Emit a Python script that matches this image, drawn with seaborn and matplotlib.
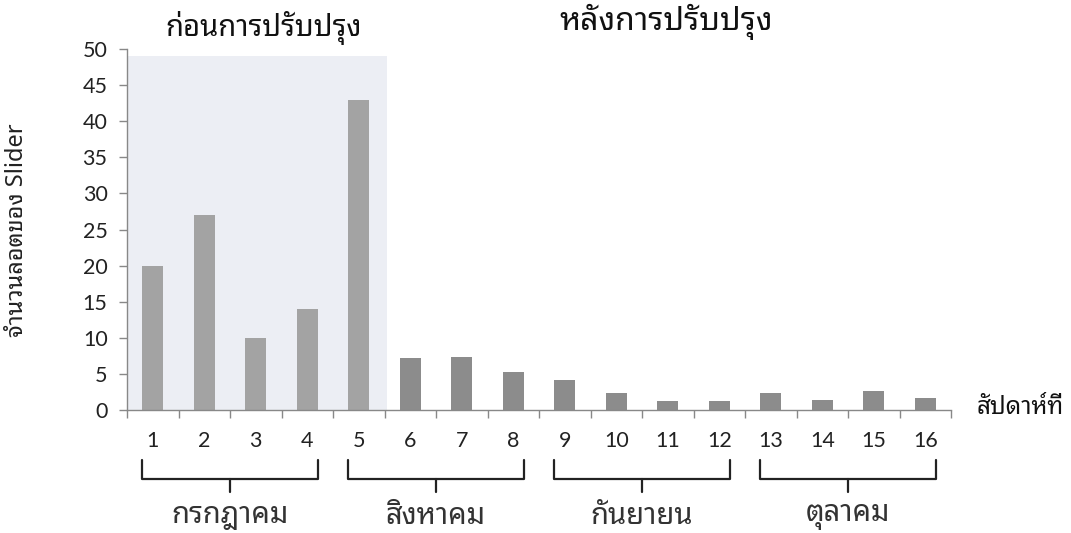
import matplotlib
matplotlib.use("Agg")
import matplotlib.pyplot as plt
import matplotlib.transforms as mtransforms
import seaborn as sns
import pandas as pd

weeks = [str(i) for i in range(1, 17)]
lots = [20, 27, 10, 14, 43, 7.2, 7.3, 5.3, 4.2, 2.3, 1.3, 1.3, 2.4, 1.4, 2.6, 1.6]
phase = ["before"] * 5 + ["after"] * 11
months = ["กรกฎาคม", "สิงหาคม", "กันยายน", "ตุลาคม"]
month_spans = [(0, 3), (4, 7), (8, 11), (12, 15)]
title_before = "ก่อนการปรับปรุง"
title_after = "หลังการปรับปรุง"
ylabel = "จำนวนลอตของ Slider"
xlabel = "สัปดาห์ที่"
yticks = list(range(0, 51, 5))

sns.set_theme(style="white")
THAI = ["Noto Sans Thai Looped", "Lato", "DejaVu Sans"]
NUM = ["Lato", "DejaVu Sans"]
plt.rcParams["font.family"] = THAI

df = pd.DataFrame({"week": weeks, "lots": lots, "phase": phase})

fig = plt.figure(figsize=(10.71, 5.33), dpi=100)
ax = fig.add_axes([127 / 1071, 1 - 410 / 533, (951 - 127) / 1071, (410 - 49) / 533])

ax.axvspan(-0.5, 4.55, ymin=0, ymax=49 / 50, color="#eceef4", zorder=0, lw=0)

sns.barplot(data=df, x="week", y="lots", hue="phase",
            palette={"before": "#a3a3a3", "after": "#8c8c8c"},
            width=0.4, dodge=False, legend=False, ax=ax, zorder=2, saturation=1,
            linewidth=0)

ax.set_xlim(-0.5, 15.5)
ax.set_ylim(0, 50)
ax.set_yticks(yticks)
ax.set_yticklabels([str(v) for v in yticks], fontsize=15.5, color="#222222", family=NUM)
ax.set_xticks([i - 0.5 for i in range(17)])
ax.set_xticklabels([""] * 17)
ax.tick_params(axis="x", direction="out", length=6, width=1, color="#888888", bottom=True)
ax.tick_params(axis="y", direction="out", length=6, width=1, color="#888888", left=True, pad=8)
for s in ["top", "right"]:
    ax.spines[s].set_visible(False)
for s in ["left", "bottom"]:
    ax.spines[s].set_color("#888888")
    ax.spines[s].set_linewidth(1)
ax.set_xlabel("")
ax.set_ylabel("")

trans = mtransforms.blended_transform_factory(ax.transData, ax.transAxes)
for i, w in enumerate(weeks):
    ax.text(i, -0.085, w, transform=trans, ha="center", va="center", fontsize=15.5,
            color="#222222", family=NUM)

ax_h = 361.0
def yax(py):
    return -(py - 410) / ax_h

for (a, b), m in zip(month_spans, months):
    x0, x1 = a - 0.2, b + 0.2
    xc = (x0 + x1) / 2
    top, line, tip = yax(460), yax(479), yax(492)
    ax.plot([x0, x0, x1, x1], [top, line, line, top], transform=trans, clip_on=False,
            color="#222222", lw=1.6, solid_joinstyle="round")
    ax.plot([xc, xc], [line, tip], transform=trans, clip_on=False, color="#222222", lw=1.6)
    ax.text(xc, yax(516), m, transform=trans, ha="center", va="center", fontsize=21,
            color="#333333", fontweight="light")

fig.text(264 / 1071, 1 - 28 / 533, title_before, ha="center", va="center", fontsize=21,
         color="#111111")
fig.text(666 / 1071, 1 - 22 / 533, title_after, ha="center", va="center", fontsize=23,
         color="#111111", fontweight="bold")
fig.text(1020 / 1071, 1 - 408 / 533, xlabel, ha="center", va="center", fontsize=17.5,
         color="#111111", fontweight="bold")
fig.text(17 / 1071, 1 - 230 / 533, ylabel, ha="center", va="center", fontsize=17,
         rotation=90, color="#222222", fontweight="bold")

fig.savefig("out.png", dpi=100, facecolor="white")
